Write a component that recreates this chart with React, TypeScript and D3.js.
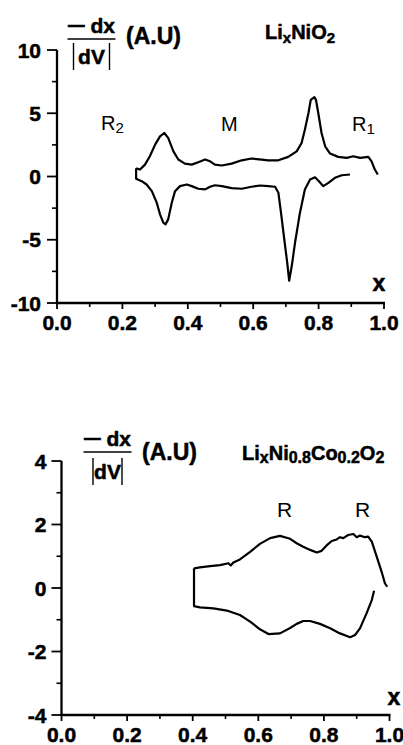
import React from "react";
import * as d3 from "d3";

type Pt = [number, number];

// ---------- DATA ----------
const xTickValues = [0, 0.2, 0.4, 0.6, 0.8, 1.0];
const xMinorValues = [0.1, 0.3, 0.5, 0.7, 0.9];

const topYTicks = [-10, -5, 0, 5, 10];
const topYMinor = [-7.5, -2.5, 2.5, 7.5];
const botYTicks = [-4, -2, 0, 2, 4];
const botYMinor = [-3, -1, 1, 3];

// LixNiO2 — upper (charge) branch
const nioUpper: Pt[] = [
  [0.242, 0.65], [0.254, 0.55], [0.269, 0.94], [0.284, 1.6], [0.300, 2.52], [0.315, 3.17],
  [0.328, 3.44], [0.340, 3.05], [0.356, 1.99], [0.371, 1.34], [0.391, 1.02], [0.412, 0.94],
  [0.432, 1.13], [0.453, 1.34], [0.468, 1.2], [0.483, 0.94], [0.504, 0.87], [0.534, 1.02],
  [0.565, 1.28], [0.595, 1.42], [0.626, 1.34], [0.646, 1.28], [0.677, 1.28], [0.707, 1.55],
  [0.733, 1.99], [0.748, 2.65], [0.758, 3.70], [0.769, 5.02], [0.776, 6.06], [0.787, 6.28],
  [0.792, 6.06], [0.799, 5.02], [0.809, 3.44], [0.820, 2.39], [0.835, 1.81], [0.860, 1.55],
  [0.886, 1.47], [0.906, 1.60], [0.927, 1.47], [0.952, 1.55], [0.962, 1.20], [0.972, 0.55],
  [0.981, 0.16],
];
// LixNiO2 — lower (discharge) branch
const nioLower: Pt[] = [
  [0.242, 0.65], [0.242, -0.18], [0.259, -0.37], [0.274, -0.63], [0.290, -1.16], [0.305, -2.07],
  [0.315, -2.99], [0.325, -3.65], [0.332, -3.78], [0.340, -3.39], [0.351, -2.07], [0.361, -1.16],
  [0.376, -0.76], [0.397, -0.63], [0.412, -0.76], [0.432, -0.97], [0.453, -1.02], [0.468, -0.81],
  [0.483, -0.69], [0.504, -0.76], [0.534, -0.92], [0.565, -0.97], [0.595, -0.81], [0.621, -0.71],
  [0.646, -0.76], [0.667, -0.81], [0.677, -1.28], [0.685, -2.86], [0.695, -4.96], [0.704, -6.80],
  [0.710, -8.24], [0.718, -7.06], [0.728, -5.22], [0.743, -2.86], [0.758, -1.02], [0.774, -0.24],
  [0.789, -0.06], [0.801, -0.37], [0.814, -0.76], [0.830, -0.50], [0.850, -0.10], [0.871, 0.10],
  [0.896, 0.16],
];

// LixNi0.8Co0.2O2 — upper branch
const ncoUpper: Pt[] = [
  [0.404, 0.62], [0.422, 0.65], [0.453, 0.69], [0.483, 0.72], [0.509, 0.78], [0.516, 0.71],
  [0.524, 0.80], [0.544, 0.90], [0.575, 1.14], [0.605, 1.39], [0.636, 1.57], [0.666, 1.64],
  [0.697, 1.55], [0.717, 1.41], [0.737, 1.30], [0.758, 1.20], [0.778, 1.12], [0.793, 1.17],
  [0.809, 1.35], [0.824, 1.48], [0.839, 1.53], [0.849, 1.60], [0.859, 1.57], [0.874, 1.67],
  [0.890, 1.70], [0.900, 1.60], [0.910, 1.65], [0.925, 1.60], [0.935, 1.62], [0.946, 1.46],
  [0.961, 0.99], [0.976, 0.51], [0.986, 0.15], [0.993, 0.04],
];
// LixNi0.8Co0.2O2 — lower branch
const ncoLower: Pt[] = [
  [0.404, 0.62], [0.404, -0.57], [0.422, -0.61], [0.463, -0.64], [0.504, -0.71], [0.544, -0.85],
  [0.575, -1.06], [0.605, -1.30], [0.631, -1.45], [0.666, -1.43], [0.697, -1.26], [0.717, -1.13],
  [0.737, -1.04], [0.758, -1.04], [0.788, -1.13], [0.819, -1.27], [0.849, -1.43], [0.880, -1.55],
  [0.895, -1.48], [0.910, -1.27], [0.930, -0.80], [0.946, -0.38], [0.953, -0.09],
];

// ---------- LAYOUT ----------
const FONT = "'Liberation Sans', Arial, Helvetica, sans-serif";
const HEAVY = { stroke: "#000", strokeWidth: 0.5 };

type PanelCfg = {
  left: number; right: number; top: number; bottom: number;
  yDomain: [number, number];
  yTicks: number[]; yMinor: number[];
  series: Pt[][];
  labelEnd: number;
};

const topCfg: PanelCfg = {
  left: 57, right: 384, top: 50, bottom: 303,
  yDomain: [-10, 10], yTicks: topYTicks, yMinor: topYMinor,
  series: [nioUpper, nioLower], labelEnd: 16,
};
const botCfg: PanelCfg = {
  left: 61.5, right: 389.5, top: 461, bottom: 715,
  yDomain: [-4, 4], yTicks: botYTicks, yMinor: botYMinor,
  series: [ncoUpper, ncoLower], labelEnd: 15,
};

function Panel({ cfg }: { cfg: PanelCfg }) {
  const x = d3.scaleLinear().domain([0, 1]).range([cfg.left, cfg.right]);
  const y = d3.scaleLinear().domain(cfg.yDomain).range([cfg.bottom, cfg.top]);
  const line = d3.line<Pt>().x((d) => x(d[0])).y((d) => y(d[1])).curve(d3.curveLinear);
  return (
    <g>
      <line x1={cfg.left} x2={cfg.left} y1={cfg.top} y2={cfg.bottom} stroke="#000" strokeWidth={2.3} />
      <line x1={cfg.left - 1} x2={cfg.right + 1} y1={cfg.bottom} y2={cfg.bottom} stroke="#000" strokeWidth={2.3} />
      {cfg.yTicks.map((t) => (
        <g key={"yt" + t}>
          <line x1={cfg.left - 10} x2={cfg.left} y1={y(t)} y2={y(t)} stroke="#000" strokeWidth={1.8} />
          <text x={cfg.left - cfg.labelEnd} y={y(t) + 7.5} textAnchor="end" fontFamily={FONT}
            fontWeight="bold" fontSize={21} {...HEAVY}>{t}</text>
        </g>
      ))}
      {cfg.yMinor.map((t) => (
        <line key={"ym" + t} x1={cfg.left - 5} x2={cfg.left} y1={y(t)} y2={y(t)} stroke="#000" strokeWidth={1.6} />
      ))}
      {xTickValues.map((t) => (
        <g key={"xt" + t}>
          <line x1={x(t)} x2={x(t)} y1={cfg.bottom} y2={cfg.bottom + 6} stroke="#000" strokeWidth={1.8} />
          <text x={x(t)} y={cfg.bottom + 27} textAnchor="middle" fontFamily={FONT}
            fontWeight="bold" fontSize={21} {...HEAVY}>{t.toFixed(1)}</text>
        </g>
      ))}
      {xMinorValues.map((t) => (
        <line key={"xm" + t} x1={x(t)} x2={x(t)} y1={cfg.bottom} y2={cfg.bottom + 4} stroke="#000" strokeWidth={1.6} />
      ))}
      {cfg.series.map((s, i) => (
        <path key={i} d={line(s) ?? ""} fill="none" stroke="#000" strokeWidth={2.2} strokeLinejoin="round" />
      ))}
    </g>
  );
}

function YLabel({ cx, lineY, halfW, barTop, barBot, barHalf, dvBase, auX, auBase }: {
  cx: number; lineY: number; halfW: number; barTop: number; barBot: number; barHalf: number;
  dvBase: number; auX: number; auBase: number;
}) {
  return (
    <g fontFamily={FONT} fontWeight="bold" {...HEAVY}>
      <text x={cx} y={lineY - 6} textAnchor="middle" fontSize={21}>
        <tspan fontSize={30} fontWeight="normal" dy={1}>–</tspan><tspan dy={-1}> dx</tspan>
      </text>
      <line x1={cx - halfW} x2={cx + halfW} y1={lineY} y2={lineY} stroke="#000" strokeWidth={1.6} />
      <line x1={cx - barHalf} x2={cx - barHalf} y1={barTop} y2={barBot} stroke="#000" strokeWidth={1.4} />
      <line x1={cx + barHalf} x2={cx + barHalf} y1={barTop} y2={barBot} stroke="#000" strokeWidth={1.4} />
      <text x={cx} y={dvBase} textAnchor="middle" fontSize={21}>dV</text>
      <text x={auX} y={auBase} fontSize={23}>(A.U)</text>
    </g>
  );
}

export default function App() {
  return (
    <svg width={403} height={745} viewBox="0 0 403 745"
      style={{ position: "absolute", left: 0, top: 0, background: "#fff" }}>
      <rect width={403} height={745} fill="#fff" />
      <Panel cfg={topCfg} />
      <Panel cfg={botCfg} />

      {/* top labels */}
      <YLabel cx={91.5} lineY={39} halfW={24} barTop={43} barBot={70} barHalf={18}
        dvBase={64} auX={126} auBase={44} />
      <text x={265} y={39} fontFamily={FONT} fontWeight="bold" fontSize={20} {...HEAVY}>
        Li<tspan fontSize={15} dy={4}>x</tspan><tspan dy={-4}>NiO</tspan><tspan fontSize={15} dy={4}>2</tspan>
      </text>
      <g fontFamily={FONT} fontSize={20}>
        <text x={101} y={130}>R<tspan fontSize={15} dy={3}>2</tspan></text>
        <text x={221} y={131}>M</text>
        <text x={352} y={131}>R<tspan fontSize={15} dy={3}>1</tspan></text>
      </g>
      <text x={379} y={291} textAnchor="middle" fontFamily={FONT} fontWeight="bold" fontSize={23} {...HEAVY}>x</text>

      {/* bottom labels */}
      <YLabel cx={107.5} lineY={452} halfW={24} barTop={458} barBot={485} barHalf={14.5}
        dvBase={479} auX={142} auBase={460} />
      <text x={242} y={460} fontFamily={FONT} fontWeight="bold" fontSize={20} {...HEAVY}>
        Li<tspan fontSize={16} dy={3}>x</tspan><tspan dy={-3}>Ni</tspan><tspan fontSize={16} dy={3}>0.8</tspan>
        <tspan dy={-3}>Co</tspan><tspan fontSize={16} dy={3}>0.2</tspan><tspan dy={-3}>O</tspan>
        <tspan fontSize={16} dy={3}>2</tspan>
      </text>
      <g fontFamily={FONT} fontSize={21}>
        <text x={277} y={517}>R</text>
        <text x={355} y={517}>R</text>
      </g>
      <text x={394} y={705} textAnchor="middle" fontFamily={FONT} fontWeight="bold" fontSize={23} {...HEAVY}>x</text>
    </svg>
  );
}
